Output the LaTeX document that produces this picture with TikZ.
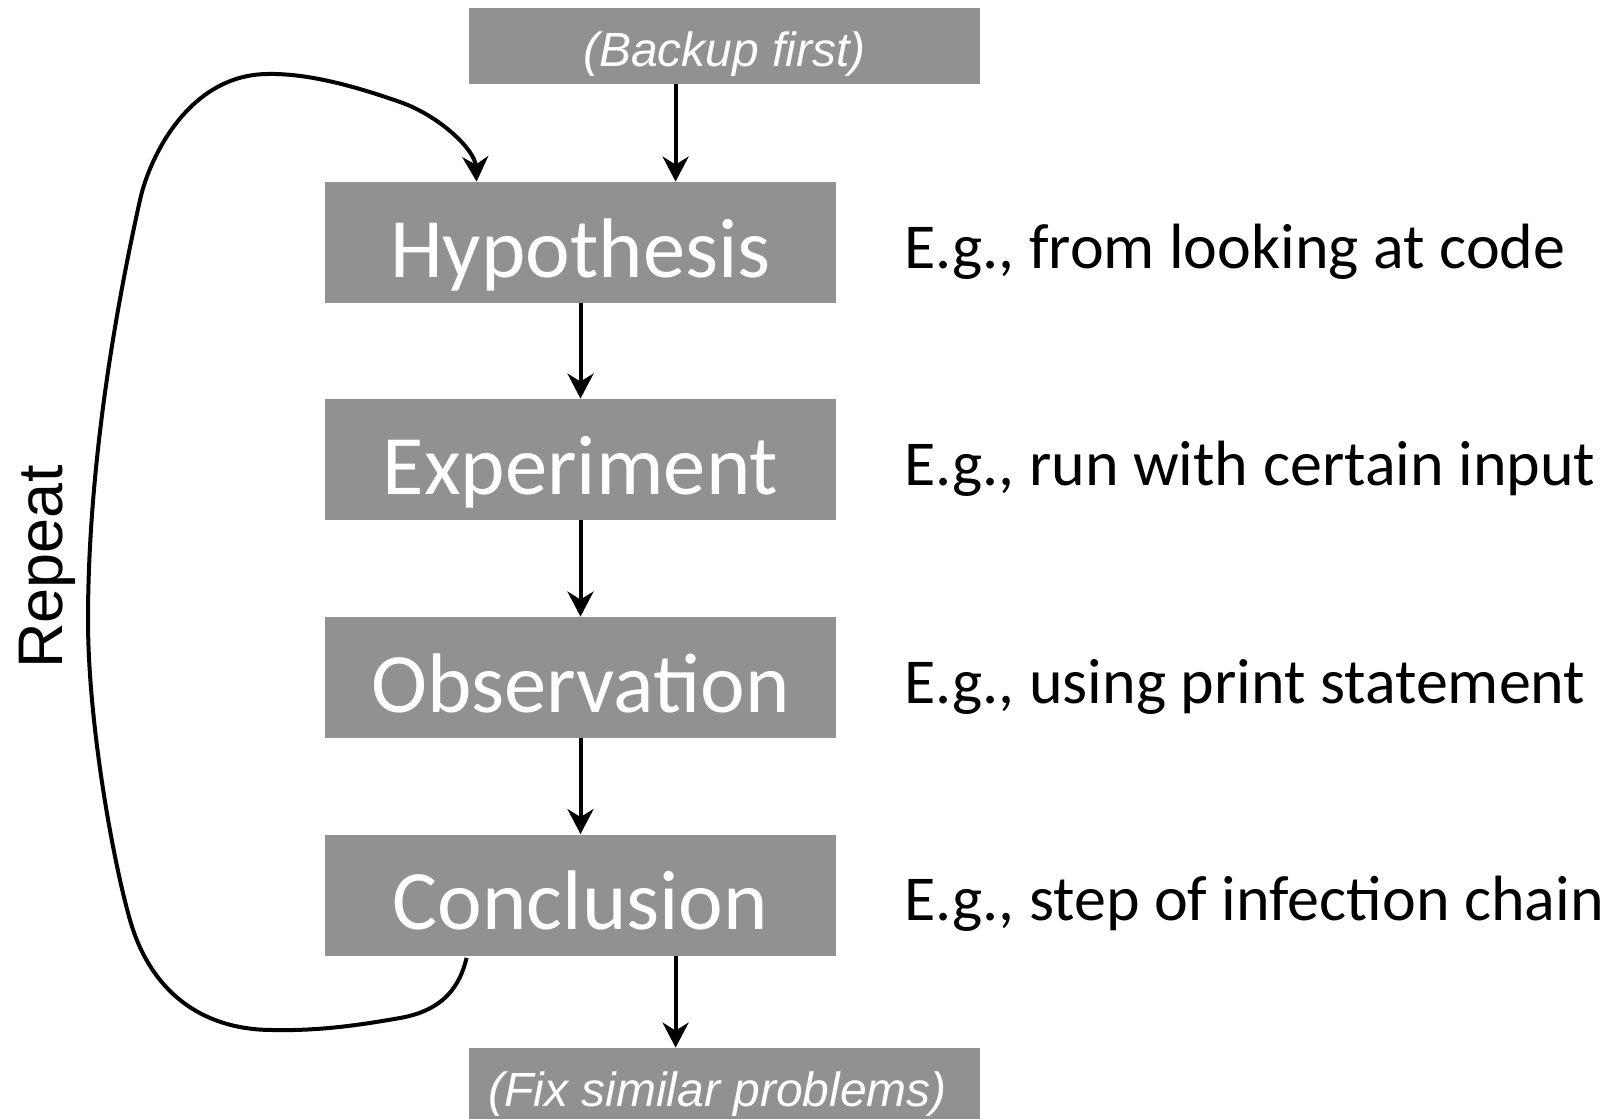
\documentclass[tikz,border=0pt]{standalone}
\usepackage{fontspec}
\setmainfont{Carlito}
\newfontfamily\arialfont{Liberation Sans}
\usetikzlibrary{arrows.meta,calc}
\definecolor{boxgray}{RGB}{145,145,145}
\begin{document}
\begin{tikzpicture}[x=0.5pt,y=-0.5pt,
  stepbox/.style={fill=boxgray,draw=none,minimum width=255.5pt,minimum height=60.5pt,
    inner sep=0pt,text=white,font=\fontsize{42.3}{42.3}\selectfont,
    text height=34.5pt,text depth=0pt},
  endbox/.style={fill=boxgray,draw=none,minimum width=255.5pt,minimum height=38pt,
    inner sep=0pt,text=white,font=\arialfont\itshape\fontsize{24}{24}\selectfont,
    text height=20pt,text depth=0pt},
  note/.style={anchor=base west,inner sep=0pt,font=\fontsize{32}{32}\selectfont},
  arr/.style={line width=2pt,-{Stealth[length=12.5pt,width=13pt,inset=4pt]}},
]
\useasboundingbox (0,0) rectangle (1614,1119);

% process steps
\node[endbox]   (bk)  at (724.5,46)    {(Backup first)};
\node[stepbox]  (hyp) at (580.5,242.5) {Hypothesis};
\node[stepbox]  (exp) at (580.5,459.5) {Experiment};
\node[stepbox]  (obs) at (580.5,677.5) {Observation};
\node[stepbox]  (con) at (580.5,895)   {Conclusion};
\node[endbox]   (fix) at (724.5,1086)  {\hspace*{-7pt}(Fix similar problems)};

% examples on the right
\node[note] (nh) at (904,268)   {E.g., from looking at code};
\node[note] (ne) at (904,485)   {E.g., run with certain input};
\node[note] (no) at (904,703)   {E.g., using print statement};
\node[note] (nc) at (904,920.5) {E.g., step of infection chain};

% loop label
\node[rotate=90,anchor=base,inner sep=0pt,font=\arialfont\fontsize{31.5}{31.5}\selectfont] (rep) at (62,567) {Repeat};

% straight connectors
\draw[arr] ($(bk.south west)+(207,0)$) -- ($(hyp.north west)+(351,0)$);
\draw[arr] (hyp.south) -- (exp.north);
\draw[arr] (exp.south) -- (obs.north);
\draw[arr] (obs.south) -- (con.north);
\draw[arr] ($(con.south west)+(351,0)$) -- ($(fix.north west)+(207,0)$);

% repeat loop
\draw[arr] ($(con.south west)+(142,2)$)
  .. controls (460,985) and (445,1010) .. (400,1018)
  .. controls (360,1025) and (320,1031) .. (273,1030)
  .. controls (200,1030) and (150,990) .. (130,920)
  .. controls (112,857) and (88,720) .. (88,620)
  .. controls (88,520) and (100,380) .. (140,200)
  .. controls (150,155) and (190,75) .. (267,74)
  .. controls (310,73) and (360,88) .. (400,102)
  .. controls (440,116) and (475,150) .. ($(hyp.north west)+(152,0)$);
\end{tikzpicture}
\end{document}
